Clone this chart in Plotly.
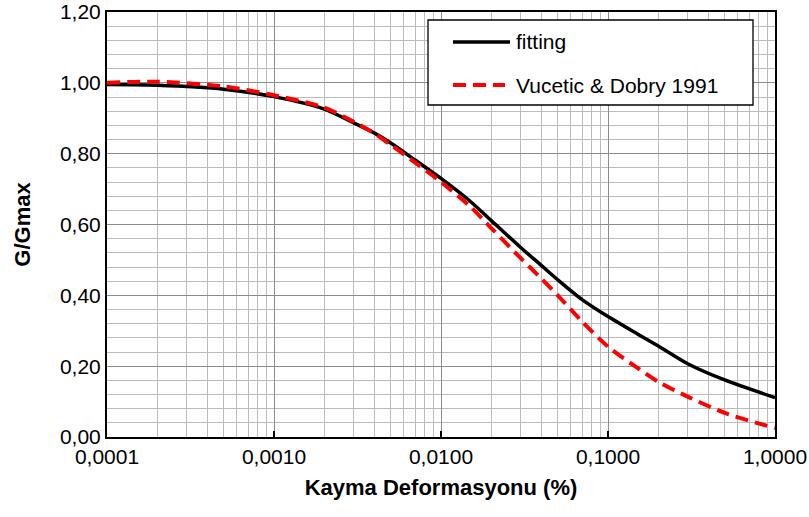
import plotly.graph_objects as go

# ---- data ----
strain = [0.0001, 0.0002, 0.0005, 0.001, 0.002, 0.003, 0.004, 0.005, 0.007, 0.01, 0.015,
          0.02, 0.03, 0.04, 0.05, 0.07, 0.1, 0.15, 0.2, 0.3, 0.5, 1.0]
fitting = [0.995, 0.993, 0.982, 0.961, 0.926, 0.887, 0.858, 0.830, 0.782, 0.730, 0.665,
           0.611, 0.535, 0.484, 0.444, 0.388, 0.340, 0.291, 0.257, 0.207, 0.161, 0.111]
vucetic = [1.000, 1.003, 0.990, 0.965, 0.930, 0.890, 0.857, 0.825, 0.775, 0.720, 0.650,
           0.590, 0.505, 0.447, 0.400, 0.326, 0.255, 0.195, 0.156, 0.114, 0.068, 0.025]

x_tickvals = [0.0001, 0.001, 0.01, 0.1, 1.0]
x_ticktext = ["0,0001", "0,0010", "0,0100", "0,1000", "1,0000"]
x_minor = [m * d for d in [0.0001, 0.001, 0.01, 0.1] for m in range(2, 10)]
y_tickvals = [0, 0.2, 0.4, 0.6, 0.8, 1.0, 1.2]
y_minor = [round(i * 0.04, 2) for i in range(31) if i % 5 != 0]

names = ["fitting", "Vucetic & Dobry 1991"]

FONT = "Liberation Sans, Arial, sans-serif"

fig = go.Figure()
fig.add_trace(go.Scatter(x=strain, y=fitting, mode="lines", name=names[0],
                         line=dict(color="#000000", width=3.5, shape="spline", smoothing=0.8),
                         showlegend=False))
fig.add_trace(go.Scatter(x=strain, y=vucetic, mode="lines", name=names[1],
                         line=dict(color="#ff0000", width=4, dash="13px,7px", shape="spline", smoothing=0.8),
                         showlegend=False))

W, H = 809, 517
L, R, T, B = 107, 34, 12, 80
# reference plot area (window pixels): x 107..775, y 12..437
def px(xp):
    return (xp - 107) / 668

def py(yp):
    return (437 - yp) / 425

# manual legend box matching the reference
shapes = [
    dict(type="rect", xref="paper", yref="paper", x0=px(428), x1=px(753), y0=py(105), y1=py(20),
         line=dict(color="black", width=1.3), fillcolor="white", layer="above"),
    dict(type="line", xref="paper", yref="paper", x0=px(453), x1=px(510), y0=py(42), y1=py(42),
         line=dict(color="black", width=3.5), layer="above"),
    dict(type="line", xref="paper", yref="paper", x0=px(453), x1=px(505), y0=py(85), y1=py(85),
         line=dict(color="#ff0000", width=4, dash="13px,7px"), layer="above"),
]
annotations = [
    dict(xref="paper", yref="paper", x=px(514), y=py(42), text=names[0], showarrow=False,
         xanchor="left", yanchor="middle", font=dict(size=21, color="black", family=FONT)),
    dict(xref="paper", yref="paper", x=px(514), y=py(85), text=names[1], showarrow=False,
         xanchor="left", yanchor="middle", font=dict(size=21, color="black", family=FONT)),
]

fig.update_layout(
    width=W, height=H,
    margin=dict(l=L, r=R, t=T, b=B, autoexpand=False),
    paper_bgcolor="white", plot_bgcolor="white",
    separators=",.",
    font=dict(family=FONT, size=21, color="black"),
    shapes=shapes, annotations=annotations,
    showlegend=False,
)
fig.update_xaxes(
    type="log", range=[-4, 0], automargin=False, ticklabeloverflow="allow",
    tickvals=x_tickvals, ticktext=x_ticktext,
    showgrid=True, gridcolor="#8c8c8c", gridwidth=1.3,
    minor=dict(tickvals=x_minor, showgrid=True, gridcolor="#bcbcbc", gridwidth=1.4, ticks=""),
    showline=True, linecolor="black", linewidth=2, mirror=True,
    ticks="inside", ticklen=6, tickcolor="black", tickwidth=1.5,
    zeroline=False,
    tickfont=dict(size=21, family=FONT),
    title=dict(text="<b>Kayma Deformasyonu (%)</b>", font=dict(size=22, family=FONT), standoff=12),
)
fig.update_yaxes(
    range=[0, 1.2], automargin=False, ticklabeloverflow="allow",
    tickvals=y_tickvals, tickformat=".2f",
    showgrid=True, gridcolor="#8c8c8c", gridwidth=1.3,
    minor=dict(tickvals=y_minor, showgrid=True, gridcolor="#bcbcbc", gridwidth=1.4, ticks=""),
    showline=True, linecolor="black", linewidth=2, mirror=True,
    ticks="", zeroline=False,
    tickfont=dict(size=21, family=FONT),
    title=dict(text="<b>G/Gmax</b>", font=dict(size=22, family=FONT), standoff=23),
)

# remove the default 8px page margin so the figure fills the window exactly
fig.write_html("out.html", config={"displayModeBar": False},
               post_script="document.body.style.margin='0';")
